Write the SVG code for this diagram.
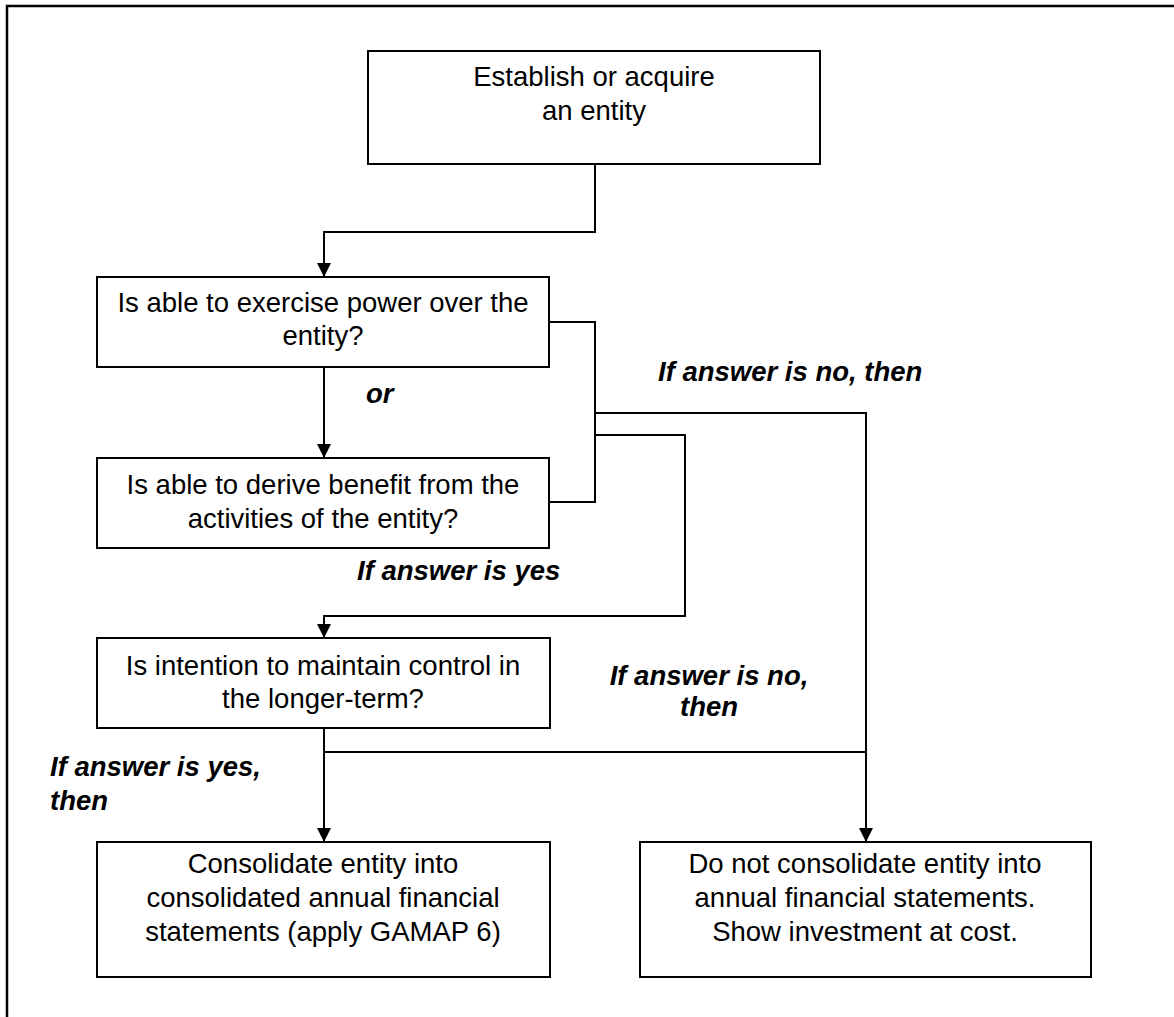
<svg xmlns="http://www.w3.org/2000/svg" width="1174" height="1017" viewBox="0 0 1174 1017">
<style>
.box{fill:#fff;stroke:#000;stroke-width:2}
.t{font-family:"Liberation Sans",Arial,sans-serif;font-size:27.5px;fill:#000;text-anchor:middle}
.lbl{font-family:"Liberation Sans",Arial,sans-serif;font-size:27.5px;font-weight:bold;font-style:italic;fill:#000}
.c{fill:none;stroke:#000;stroke-width:2}
</style>
<defs>
<marker id="ah" markerUnits="userSpaceOnUse" markerWidth="14" markerHeight="14" refX="14" refY="7" orient="auto" viewBox="0 0 14 14">
<path d="M0,0 L14,7 L0,14 z" fill="#000"/>
</marker>
</defs>
<rect width="1174" height="1017" fill="#fff"/>
<path d="M7,1030 V6 H1180" fill="none" stroke="#000" stroke-width="2.5"/>
<g id="connectors">
<path class="c" d="M595,164 V232 H324 V277" marker-end="url(#ah)"/>
<path class="c" d="M324,367 V458" marker-end="url(#ah)"/>
<path class="c" d="M549,322 H595 V502 H549"/>
<path class="c" d="M595,413 H866 V842" marker-end="url(#ah)"/>
<path class="c" d="M595,435 H685 V616 H324 V638" marker-end="url(#ah)"/>
<path class="c" d="M324,728 V842" marker-end="url(#ah)"/>
<path class="c" d="M324,752 H866"/>
</g>
<g id="n_start">
<rect class="box" x="368" y="51" width="452" height="113"/>
<text class="t" x="594" y="86">Establish or acquire</text>
<text class="t" x="594" y="120">an entity</text>
</g>
<g id="n_power">
<rect class="box" x="97" y="277" width="452" height="90"/>
<text class="t" x="323" y="312">Is able to exercise power over the</text>
<text class="t" x="323" y="345">entity?</text>
</g>
<g id="n_benefit">
<rect class="box" x="97" y="458" width="452" height="90"/>
<text class="t" x="323" y="494">Is able to derive benefit from the</text>
<text class="t" x="323" y="528">activities of the entity?</text>
</g>
<g id="n_intention">
<rect class="box" x="97" y="638" width="453" height="90"/>
<text class="t" x="323" y="675">Is intention to maintain control in</text>
<text class="t" x="323" y="708">the longer-term?</text>
</g>
<g id="n_consolidate">
<rect class="box" x="97" y="842" width="453" height="135"/>
<text class="t" x="323" y="873">Consolidate entity into</text>
<text class="t" x="323" y="907">consolidated annual financial</text>
<text class="t" x="323" y="941">statements (apply GAMAP 6)</text>
</g>
<g id="n_noconsolidate">
<rect class="box" x="640" y="842" width="451" height="135"/>
<text class="t" x="865" y="873">Do not consolidate entity into</text>
<text class="t" x="865" y="907">annual financial statements.</text>
<text class="t" x="865" y="941">Show investment at cost.</text>
</g>
<g id="labels">
<text class="lbl" x="366" y="403">or</text>
<text class="lbl" x="658" y="381">If answer is no, then</text>
<text class="lbl" x="357" y="580">If answer is yes</text>
<text class="lbl" x="709" y="685" text-anchor="middle">If answer is no,</text>
<text class="lbl" x="709" y="716" text-anchor="middle">then</text>
<text class="lbl" x="50" y="776">If answer is yes,</text>
<text class="lbl" x="50" y="810">then</text>
</g>
</svg>
